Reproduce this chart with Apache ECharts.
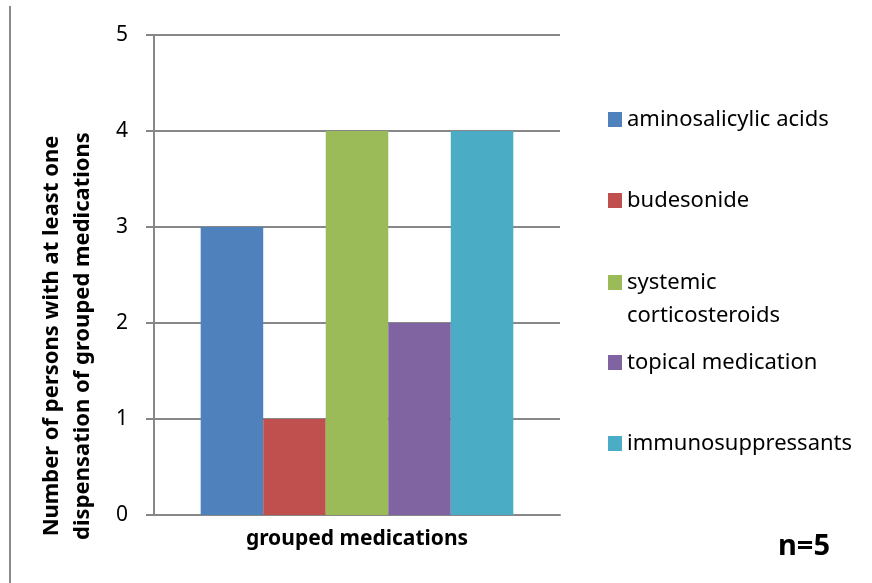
<!DOCTYPE html>
<html>
<head>
<meta charset="utf-8">
<script src="https://cdn.jsdelivr.net/npm/echarts@6/dist/echarts.min.js"></script>
<style>
  html, body { margin: 0; padding: 0; background: #ffffff; }
  #chart { width: 872px; height: 583px; }
</style>
</head>
<body>
<div id="chart"></div>
<script>
// Medication groups and how many persons received at least one dispensation
const categories = ['grouped medications'];
const seriesNames = [
  'aminosalicylic acids',
  'budesonide',
  'systemic\ncorticosteroids',
  'topical medication',
  'immunosuppressants'
];
const seriesValues = [3, 1, 4, 2, 4];
const seriesColors = ['#4F81BD', '#C0504D', '#9BBB59', '#8064A2', '#4BACC6'];
const yTicks = [0, 1, 2, 3, 4, 5];
const yTitle = 'Number of persons with at least one\ndispensation of grouped medications';
const sampleNote = 'n=5';

const FONT = 'Noto Sans';
const GRID_GRAY = '#878787';
const LEGEND_TOPS = [98, 179, 261, 341, 422];
const LINE_H = 33;

const chart = echarts.init(document.getElementById('chart'), null, { renderer: 'canvas' });

const series = seriesNames.map((name, i) => ({
  name: name,
  type: 'bar',
  data: [seriesValues[i]],
  barGap: '0%',
  barCategoryGap: '23%',
  itemStyle: { color: seriesColors[i] },
  z: 1
}));

// One legend block per entry so each can sit at its own height.
// Two-line entries keep their swatch beside the first line.
const legends = seriesNames.map((name, i) => {
  const multi = name.indexOf('\n') >= 0;
  return {
    data: [name],
    left: 603,
    top: LEGEND_TOPS[i],
    orient: 'vertical',
    itemWidth: 14,
    itemHeight: multi ? 48 : 15,
    icon: multi ? 'path://M0,0h14v15h-14z M0,47.99h0.01v0.01h-0.01z' : 'rect',
    symbolKeepAspect: false,
    itemGap: 0,
    selectedMode: false,
    textStyle: {
      fontFamily: FONT, fontSize: 22, color: '#000', lineHeight: LINE_H
    }
  };
});

chart.setOption({
  animation: false,
  backgroundColor: '#ffffff',
  grid: { left: 154, right: 312, top: 35, bottom: 68 },
  legend: legends,
  xAxis: {
    type: 'category',
    data: categories,
    axisLine: { show: true, lineStyle: { color: GRID_GRAY, width: 2 } },
    axisTick: { show: false },
    axisLabel: {
      fontFamily: FONT, fontSize: 21, fontWeight: 'bold', color: '#000', margin: 14
    }
  },
  yAxis: {
    type: 'value',
    min: yTicks[0],
    max: yTicks[yTicks.length - 1],
    interval: 1,
    axisLine: { show: true, lineStyle: { color: GRID_GRAY, width: 2 } },
    axisTick: { show: true, length: 8, lineStyle: { color: GRID_GRAY, width: 2 } },
    axisLabel: { fontFamily: FONT, fontSize: 21, color: '#000', margin: 26 },
    splitLine: { show: true, lineStyle: { color: GRID_GRAY, width: 2 } }
  },
  series: series,
  graphic: [
    {
      type: 'line',
      shape: { x1: 10, y1: 6, x2: 10, y2: 583 },
      style: { stroke: '#8a8a8a', lineWidth: 2 }
    },
    {
      type: 'text',
      x: 67,
      y: 336,
      rotation: Math.PI / 2,
      style: {
        text: yTitle,
        fontFamily: FONT, fontSize: 22, fontWeight: 'bold', fill: '#000',
        lineHeight: 31, align: 'center', verticalAlign: 'middle'
      }
    },
    {
      type: 'text',
      left: 778,
      top: 532,
      style: { text: sampleNote, fontFamily: FONT, fontSize: 29, fontWeight: 'bold', fill: '#000' }
    }
  ]
});
</script>
</body>
</html>
